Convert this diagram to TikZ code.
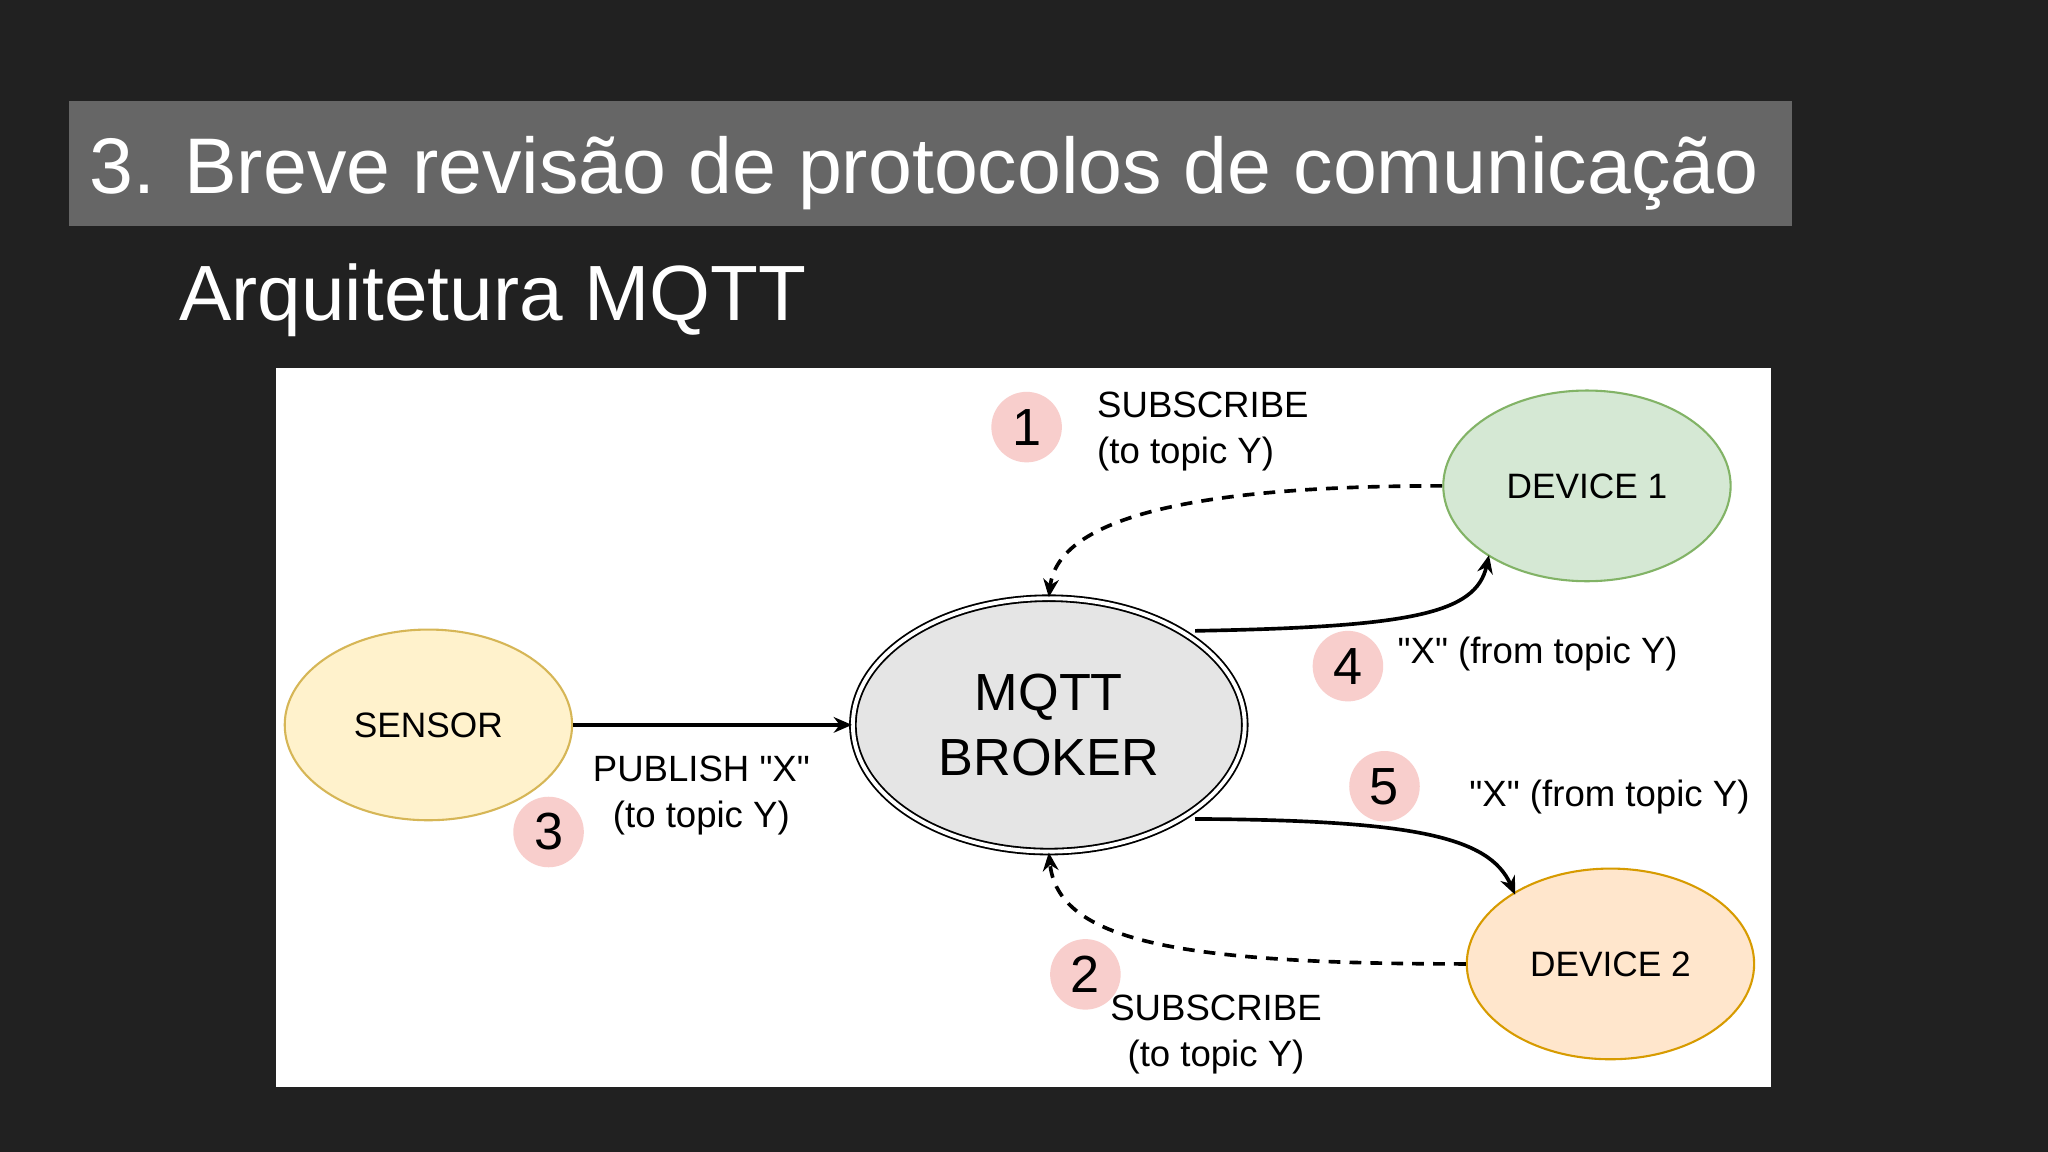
\documentclass[tikz,border=0pt]{standalone}
\usepackage{fontspec}
\setmainfont{Liberation Sans}
\usetikzlibrary{shapes.geometric,arrows.meta}
\definecolor{bg}{HTML}{212121}
\definecolor{bar}{HTML}{666666}
\definecolor{sfill}{HTML}{FFF2CC}\definecolor{sdraw}{HTML}{D6B656}
\definecolor{gfill}{HTML}{D5E8D4}\definecolor{gdraw}{HTML}{82B366}
\definecolor{ofill}{HTML}{FFE6CC}\definecolor{odraw}{HTML}{D79B00}
\definecolor{rfill}{HTML}{F8CECC}
\newcommand{\qq}{\textquotedbl}
\begin{document}
\begin{tikzpicture}[x=0.5pt,y=-0.5pt,
  ell/.style={ellipse,draw,line width=0.8pt,minimum width=110pt,minimum height=73pt,inner sep=0pt},
  num/.style={circle,fill=rfill,minimum size=27pt,inner sep=0pt,font=\fontsize{20}{24}\selectfont},
  lbl/.style={font=\fontsize{14}{17.5}\selectfont,align=center},
  arr/.style={-{Stealth[length=7pt,width=6pt]},line width=1.4pt},
  dsh/.style={dash pattern=on 4.5pt off 3.5pt}]
\fill[bg] (0,0) rectangle (1568,882);
\useasboundingbox (0,0) rectangle (1568,882);
\fill[bar] (53,77) rectangle (1372,173);
\node[anchor=west,text=white,font=\fontsize{30.2}{36}\selectfont,inner sep=0] (title) at (68,133) {3. Breve revisão de protocolos de comunicação};
\node[anchor=west,text=white,font=\fontsize{30}{36}\selectfont,inner sep=0] (sub) at (137,230) {Arquitetura MQTT};
\fill[white] (211,282) rectangle (1356,832);
\node[ell,fill=sfill,draw=sdraw] (sensor) at (328,555) {\fontsize{13.5}{15}\selectfont SENSOR};
\node[ell,fill=gfill,draw=gdraw] (d1) at (1215,372) {\fontsize{13.5}{15}\selectfont DEVICE 1};
\node[ell,fill=ofill,draw=odraw] (d2) at (1233,738) {\fontsize{13.5}{15}\selectfont DEVICE 2};
\node[ellipse,draw,double,double distance=1.5pt,line width=0.7pt,fill=gray!20,minimum width=150pt,minimum height=97pt,align=center,font=\fontsize{20}{25}\selectfont] (broker) at (803,555) {MQTT\\BROKER};
\node[num] (n1) at (786,327) {1};
\node[num] (n2) at (831,746) {2};
\node[num] (n3) at (420,637) {3};
\node[num] (n4) at (1032,510) {4};
\node[num] (n5) at (1060,602) {5};
\node[lbl,anchor=north west,align=left] (l1) at (833,293) {SUBSCRIBE\\(to topic Y)};
\node[lbl] (l2) at (931,792) {SUBSCRIBE\\(to topic Y)};
\node[lbl] (l3) at (537,609) {PUBLISH \qq X\qq\\(to topic Y)};
\node[lbl,anchor=west] (l4) at (1063,501) {\qq X\qq{} (from topic Y)};
\node[lbl,anchor=west] (l5) at (1118,610) {\qq X\qq{} (from topic Y)};
\draw[arr] (sensor.east) -- (broker.west);
\draw[arr,dsh] (d1.west) .. controls (900,372) and (810,400) .. (broker.north);
\draw[arr] (915,483) .. controls (1080,480) and (1130,470) .. (1140,425);
\draw[arr] (915,627) .. controls (1080,628) and (1140,640) .. (1160,685);
\draw[arr,dsh] (d2.west) .. controls (900,738) and (810,720) .. (broker.south);
\end{tikzpicture}
\end{document}
